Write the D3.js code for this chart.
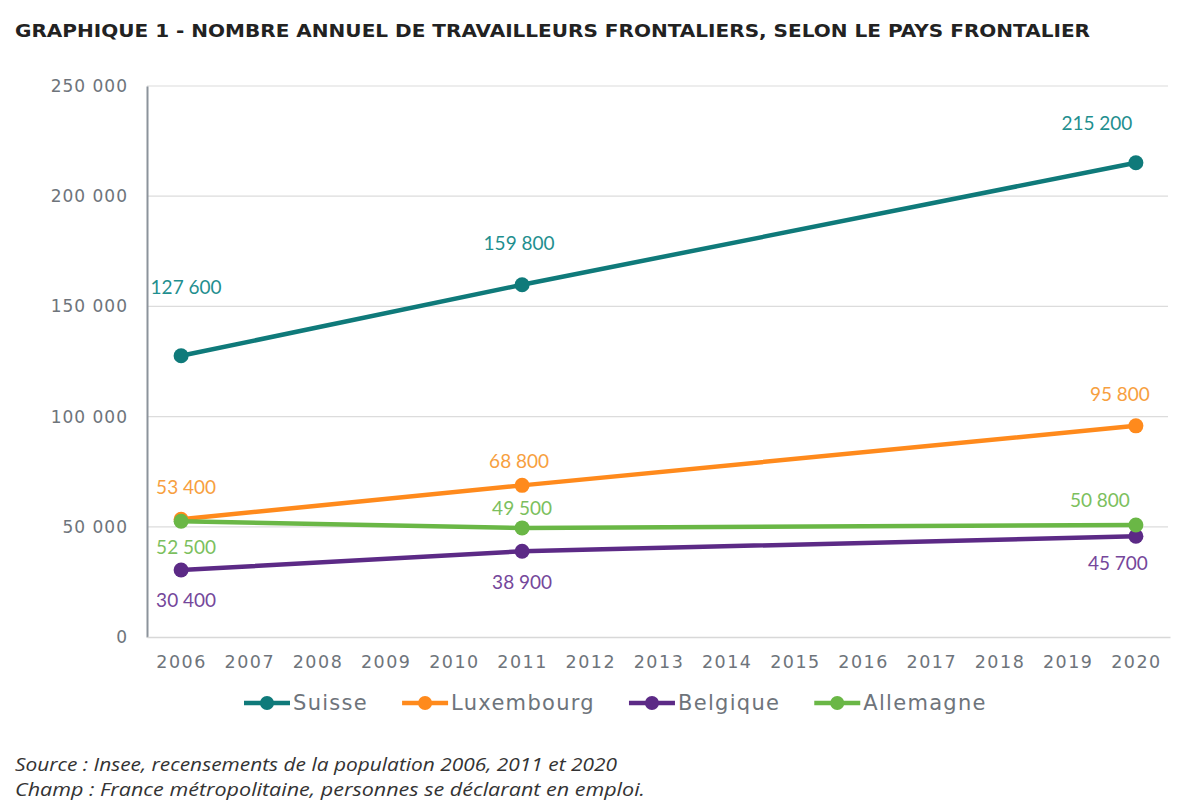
<!DOCTYPE html>
<html><head><meta charset="utf-8">
<script src="https://cdn.jsdelivr.net/npm/d3@7"></script>
<style>body{margin:0;background:#fff}svg{display:block}</style>
</head><body>
<svg id="c" width="1200" height="810"></svg>
<script>
const years = d3.range(2006, 2021);
const dataYears = [2006, 2011, 2020];
const seriesNames = ["Suisse", "Luxembourg", "Belgique", "Allemagne"];
const suisse = [127600, 159800, 215200];
const luxembourg = [53400, 68800, 95800];
const belgique = [30400, 38900, 45700];
const allemagne = [52500, 49500, 50800];
const yTicks = [0, 50000, 100000, 150000, 200000, 250000];
const titleText = "GRAPHIQUE 1 - NOMBRE ANNUEL DE TRAVAILLEURS FRONTALIERS, SELON LE PAYS FRONTALIER";
const footLines = ["Source : Insee, recensements de la population 2006, 2011 et 2020",
                   "Champ : France métropolitaine, personnes se déclarant en emploi."];

// styling
const lineColors = ["#0f7a7a", "#ff8a1c", "#5c2a86", "#6ab746"];
const labelColors = ["#1f8f8f", "#f7a03f", "#75479b", "#7cbf5e"];
// label offsets (dx, dy) relative to each point
const labelOffsets = [
  [[5,-68],[-3,-41],[-39,-39]],
  [[5,-32],[-3,-24],[-16,-32]],
  [[5,30],[0,31],[-18,27]],
  [[5,26],[0,-20],[-36,-25]]
];
const footWidths = [602, 630];
const allSeries = [suisse, luxembourg, belgique, allemagne];

const fr = d3.formatLocale({decimal: ",", thousands: " ", grouping: [3], currency: ["", " €"]});
const fmt = fr.format(",d");

const svg = d3.select("#c");
const L = 147, R = 1170, T = 86, B = 637;
const x = d3.scalePoint().domain(years).range([L, R]).padding(0.5);
const y = d3.scaleLinear().domain([0, 250000]).range([B, T]);

// title
svg.append("text").attr("x", 15).attr("y", 37).text(titleText)
  .attr("font-family", "DejaVu Sans").attr("font-weight", "bold").attr("font-size", 17)
  .attr("fill", "#222").attr("textLength", 1075).attr("lengthAdjust", "spacingAndGlyphs");

// grid
svg.append("g").selectAll("line").data(yTicks.filter(d => d > 0)).join("line")
  .attr("x1", L).attr("x2", R - 2).attr("y1", d => y(d)).attr("y2", d => y(d))
  .attr("stroke", "#dcdcdc").attr("stroke-width", 1.2);

// y axis
const ya = svg.append("g").attr("transform", `translate(${L},0)`)
  .call(d3.axisLeft(y).tickValues(yTicks).tickFormat(fmt).tickSize(0).tickPadding(19));
ya.select(".domain").attr("stroke", "#8c939b").attr("stroke-width", 2);
ya.selectAll("text").attr("font-family", "DejaVu Sans").attr("font-size", 17)
  .attr("fill", "#6e747b").attr("letter-spacing", 1);

// x axis
const xa = svg.append("g").attr("transform", `translate(0,${B})`)
  .call(d3.axisBottom(x).tickSize(0).tickPadding(19).tickFormat(d3.format("d")));
xa.select(".domain").attr("stroke", "#d8d8d8").attr("stroke-width", 1.5);
xa.selectAll("text").attr("font-family", "DejaVu Sans").attr("font-size", 17.5)
  .attr("fill", "#6e747b").attr("letter-spacing", 1.5);

// lines
const line = d3.line().x((d, i) => x(dataYears[i])).y(d => y(d));
allSeries.forEach((s, k) => {
  const g = svg.append("g");
  g.append("path").attr("d", line(s)).attr("fill", "none")
    .attr("stroke", lineColors[k]).attr("stroke-width", 4.5);
  g.selectAll("circle").data(s).join("circle")
    .attr("cx", (d, i) => x(dataYears[i])).attr("cy", d => y(d)).attr("r", 7.5)
    .attr("fill", lineColors[k]);
});
// labels
allSeries.forEach((s, k) => {
  svg.append("g").selectAll("text").data(s).join("text")
    .attr("x", (d, i) => x(dataYears[i]) + labelOffsets[k][i][0])
    .attr("y", (d, i) => y(d) + labelOffsets[k][i][1])
    .attr("dy", "0.35em").attr("text-anchor", "middle")
    .attr("font-family", "Lato").attr("font-size", 19)
    .attr("fill", labelColors[k]).text(d => fmt(d));
});

// legend
let lx = 244;
const ly = 703;
seriesNames.forEach((n, k) => {
  const g = svg.append("g");
  g.append("line").attr("x1", lx).attr("x2", lx + 46).attr("y1", ly).attr("y2", ly)
    .attr("stroke", lineColors[k]).attr("stroke-width", 4.5);
  g.append("circle").attr("cx", lx + 23).attr("cy", ly).attr("r", 7).attr("fill", lineColors[k]);
  const t = g.append("text").attr("x", lx + 49).attr("y", ly).attr("dy", "0.35em")
    .attr("font-family", "DejaVu Sans").attr("font-size", 21).attr("fill", "#6e747b")
    .attr("letter-spacing", 1.3).text(n);
  lx += 49 + t.node().getComputedTextLength() + 34;
});

// footer
svg.append("g").selectAll("text").data(footLines).join("text")
  .attr("x", 15).attr("y", (d, i) => 771 + i * 25).text(d => d)
  .attr("font-family", "Open Sans").attr("font-style", "italic").attr("font-size", 18)
  .attr("fill", "#333")
  .attr("textLength", (d, i) => footWidths[i]).attr("lengthAdjust", "spacingAndGlyphs");
</script>
</body></html>
